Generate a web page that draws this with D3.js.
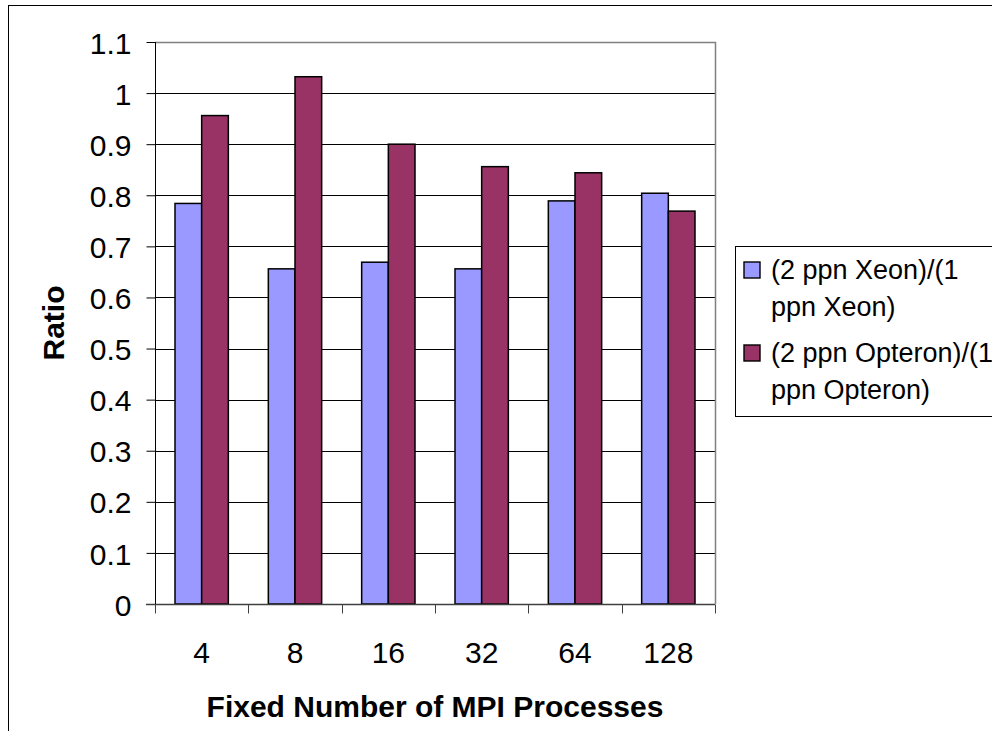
<!DOCTYPE html>
<html>
<head>
<meta charset="utf-8">
<script src="https://cdn.jsdelivr.net/npm/d3@7"></script>
<style>
  html, body { margin: 0; padding: 0; background: #fff; }
  svg { display: block; font-family: Arial, "Liberation Sans", sans-serif; }
</style>
</head>
<body>
<svg id="chart" width="992" height="731"></svg>
<script>
// ---- data ----
const categories = ["4", "8", "16", "32", "64", "128"];
const seriesNames = ["(2 ppn Xeon)/(1 ppn Xeon)", "(2 ppn Opteron)/(1 ppn Opteron)"];
const xeonValues = [0.784, 0.656, 0.669, 0.656, 0.789, 0.804];
const opteronValues = [0.956, 1.032, 0.900, 0.856, 0.844, 0.769];
const yTicks = [0, 0.1, 0.2, 0.3, 0.4, 0.5, 0.6, 0.7, 0.8, 0.9, 1, 1.1];
const legendLines = [["(2 ppn Xeon)/(1", "ppn Xeon)"], ["(2 ppn Opteron)/(1", "ppn Opteron)"]];
const colors = ["#9999FF", "#993366"];
const xTitle = "Fixed Number of MPI Processes";
const yTitle = "Ratio";

const svg = d3.select("#chart");

// outer chart border
svg.append("rect").attr("x", 8.5).attr("y", 5.5).attr("width", 1100).attr("height", 1000)
  .attr("fill", "#fff").attr("stroke", "#000").attr("stroke-width", 1);

const plot = { left: 155, right: 715, top: 42, bottom: 604 };

const x0 = d3.scaleBand().domain(categories).range([plot.left, plot.right]).padding(0);
const bw = x0.bandwidth();
const barW = bw / 3.5;
const x1 = d3.scaleBand().domain([0, 1]).range([(bw - 2 * barW) / 2, (bw + 2 * barW) / 2]).padding(0);
const y = d3.scaleLinear().domain([0, 1.1]).range([plot.bottom, plot.top]);

// gridlines
svg.append("g").selectAll("line").data(yTicks.filter(t => t > 0 && t < 1.1)).join("line")
  .attr("x1", plot.left).attr("x2", plot.right)
  .attr("y1", d => Math.round(y(d)) + 0.5).attr("y2", d => Math.round(y(d)) + 0.5)
  .attr("stroke", "#000").attr("stroke-width", 1);

// plot area border (top & right)
svg.append("path")
  .attr("d", `M${plot.left},${Math.round(y(1.1)) + 0.5}H${plot.right + 0.5}V${plot.bottom}`)
  .attr("fill", "none").attr("stroke", "#808080").attr("stroke-width", 1.5);

// bars
const data = categories.map((c, i) => ({ cat: c, vals: [xeonValues[i], opteronValues[i]] }));
const groups = svg.append("g").selectAll("g").data(data).join("g")
  .attr("transform", d => `translate(${x0(d.cat)},0)`);
groups.selectAll("rect").data(d => d.vals.map((v, s) => ({ v, s }))).join("rect")
  .attr("x", d => x1(d.s))
  .attr("width", x1.bandwidth())
  .attr("y", d => y(d.v))
  .attr("height", d => y(0) - y(d.v))
  .attr("fill", d => colors[d.s])
  .attr("stroke", "#000").attr("stroke-width", 1.5);

// y axis
const yAxis = d3.axisLeft(y).tickValues(yTicks).tickSize(9).tickPadding(15)
  .tickFormat(d => d3.format("~g")(d));
const yg = svg.append("g").attr("transform", `translate(${plot.left + 0.5},0)`).call(yAxis);
yg.select(".domain").attr("stroke", "#000").attr("d", `M0,${plot.top}V${plot.bottom}`);
yg.selectAll(".tick line").attr("stroke", "#000");
yg.selectAll(".tick text").attr("font-size", 30).attr("fill", "#000")
  .attr("font-family", "Arial, 'Liberation Sans', sans-serif").attr("dy", "0.37em");

// x axis
const xg = svg.append("g").attr("transform", `translate(0,${plot.bottom + 0.5})`);
xg.append("line").attr("x1", plot.left - 9).attr("x2", plot.right).attr("y1", 0).attr("y2", 0)
  .attr("stroke", "#404040").attr("stroke-width", 1.3);
const boundaries = categories.map(c => x0(c)).concat([plot.right]);
xg.selectAll("line.tk").data(boundaries).join("line").attr("class", "tk")
  .attr("x1", d => Math.round(d) + 0.5).attr("x2", d => Math.round(d) + 0.5)
  .attr("y1", 0).attr("y2", 9).attr("stroke", "#404040");
xg.selectAll("text").data(categories).join("text")
  .attr("x", d => x0(d) + bw / 2).attr("y", 58)
  .attr("text-anchor", "middle").attr("font-size", 30).attr("fill", "#000")
  .text(d => d);

// axis titles
svg.append("text").attr("x", (plot.left + plot.right) / 2).attr("y", 717)
  .attr("text-anchor", "middle").attr("font-size", 30).attr("font-weight", "bold")
  .text(xTitle);
svg.append("text").attr("transform", `translate(64,${(plot.top + plot.bottom) / 2}) rotate(-90)`)
  .attr("text-anchor", "middle").attr("font-size", 30).attr("font-weight", "bold")
  .text(yTitle);

// legend
const lg = svg.append("g");
lg.append("rect").attr("x", 735.5).attr("y", 246.5).attr("width", 400).attr("height", 170)
  .attr("fill", "#fff").attr("stroke", "#000").attr("stroke-width", 1);
const entryY = [279, 362];
seriesNames.forEach((name, i) => {
  lg.append("rect").attr("x", 744).attr("y", entryY[i] - 17).attr("width", 16).attr("height", 16)
    .attr("fill", colors[i]).attr("stroke", "#000").attr("stroke-width", 1.4);
  legendLines[i].forEach((ln, j) => {
    lg.append("text").attr("x", 771).attr("y", entryY[i] + j * 37)
      .attr("font-size", 27).attr("fill", "#000").text(ln);
  });
});
</script>
</body>
</html>
